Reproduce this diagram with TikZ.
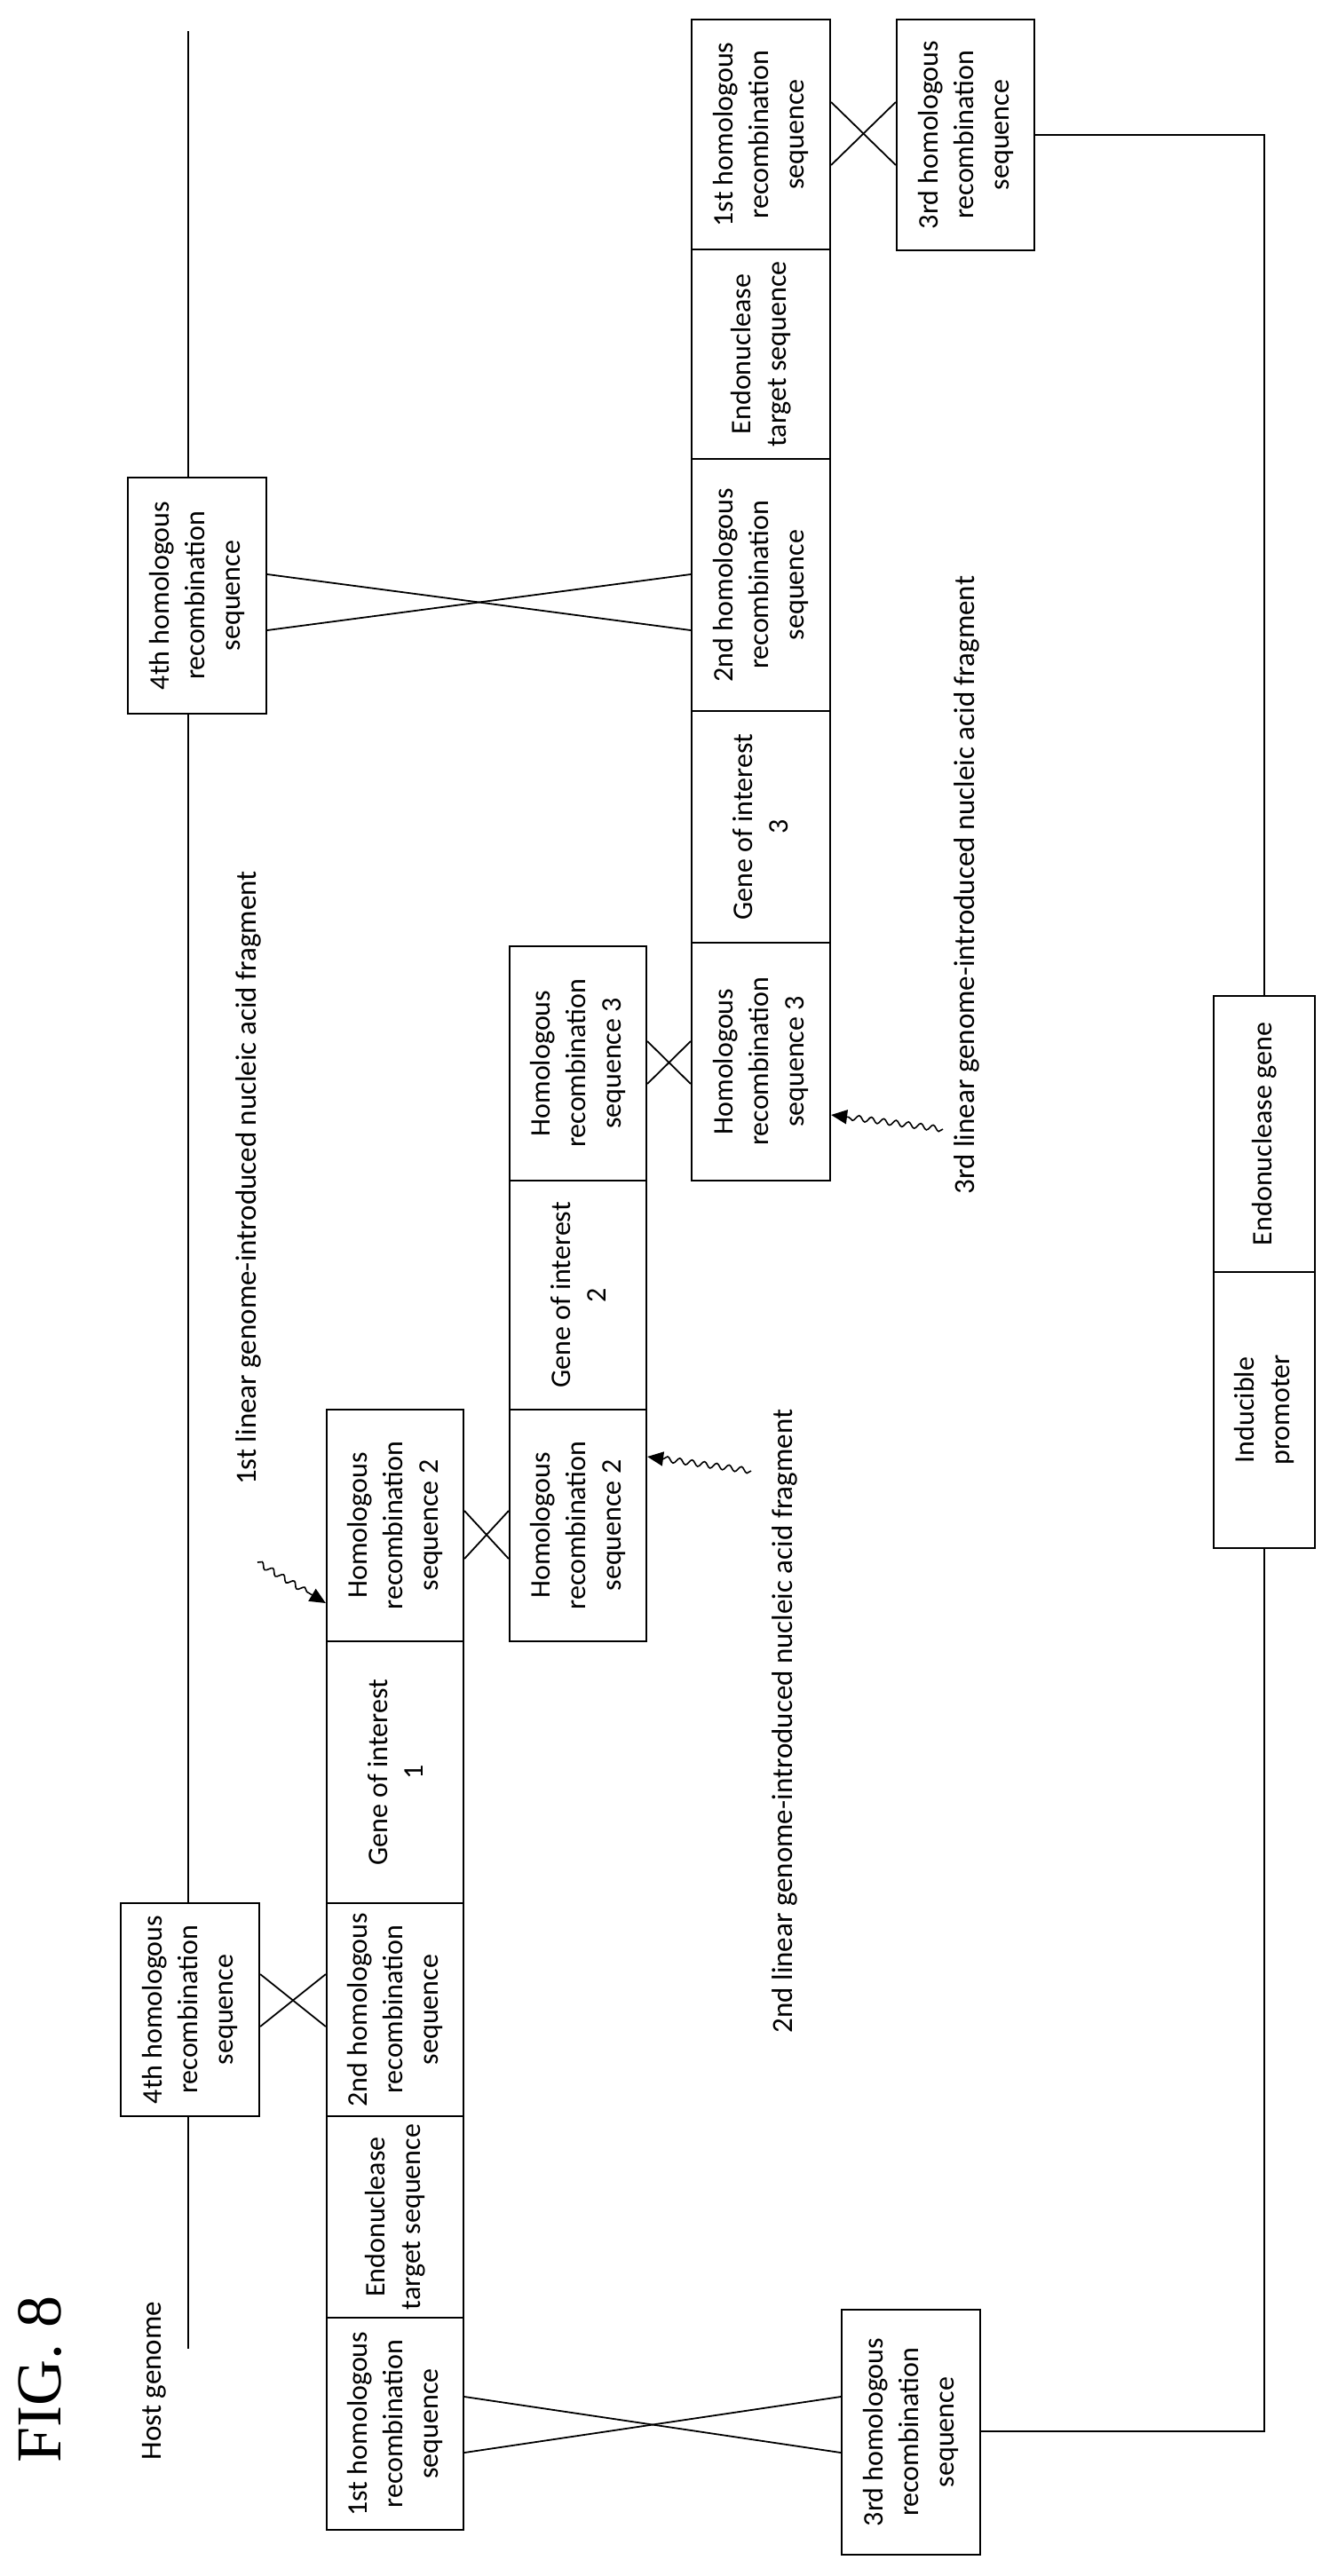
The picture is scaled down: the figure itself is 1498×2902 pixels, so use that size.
\documentclass[tikz,border=0pt]{standalone}
\usepackage{fontspec}
\setmainfont{Carlito}
\newfontfamily\figfont{Liberation Serif}
\usetikzlibrary{calc,decorations.pathmorphing,arrows.meta}
\begin{document}
\begin{tikzpicture}[x=0.5pt,y=-0.5pt,
  bx/.style={draw,line width=1.1pt,rotate=90,align=center,inner sep=0pt,
    font=\fontsize{16}{20}\selectfont},
  ln/.style={line width=0.9pt},
  lab/.style={rotate=90,font=\fontsize{16.5}{19}\selectfont},
  sq/.style={line width=0.8pt,decorate,decoration={snake,amplitude=1.6pt,segment length=7pt,post length=9pt},-{Triangle[length=9pt,width=8pt]}}]
\useasboundingbox (0,0) rectangle (1498,2902);
\newcommand{\bxat}[6]{% name, x1,x2,y1,y2,text
  \node[bx,minimum width={(#5-#4)*0.5pt},minimum height={(#3-#2)*0.5pt}] (#1) at ({(#2+#3)/2},{(#4+#5)/2}) {#6};}
% right column
\bxat{r1}{779}{935}{22}{281}{1st homologous\\recombination\\sequence}
\bxat{r2}{779}{935}{281}{517}{Endonuclease\\target sequence}
\bxat{r3}{779}{935}{517}{801}{2nd homologous\\recombination\\sequence}
\bxat{r4}{779}{935}{801}{1062}{Gene of interest\\3}
\bxat{r5}{779}{935}{1062}{1330}{Homologous\\recombination\\sequence 3}
\bxat{tr}{1010}{1165}{22}{282}{3rd homologous\\recombination\\sequence}
\bxat{ft}{144}{300}{538}{804}{4th homologous\\recombination\\sequence}
% middle
\bxat{m1}{574}{728}{1066}{1330}{Homologous\\recombination\\sequence 3}
\bxat{m2}{574}{728}{1330}{1588}{Gene of interest\\2}
\bxat{m3}{574}{728}{1588}{1849}{Homologous\\recombination\\sequence 2}
% left
\bxat{l1}{368}{522}{1588}{1849}{Homologous\\recombination\\sequence 2}
\bxat{l2}{368}{522}{1849}{2144}{Gene of interest\\1}
\bxat{l3}{368}{522}{2144}{2384}{2nd homologous\\recombination\\sequence}
\bxat{l4}{368}{522}{2384}{2611}{Endonuclease\\target sequence}
\bxat{l5}{368}{522}{2611}{2850}{1st homologous\\recombination\\sequence}
\bxat{fb}{136}{292}{2144}{2384}{4th homologous\\recombination\\sequence}
\bxat{tb}{948}{1104}{2602}{2878}{3rd homologous\\recombination\\sequence}
% endonuclease cassette
\bxat{eg}{1367}{1481}{1122}{1433}{Endonuclease gene}
\bxat{ip}{1367}{1481}{1433}{1744}{Inducible\\promoter}
% host genome line
\coordinate (h0) at (212,35);
\coordinate (h1) at (212,2646);
\draw[ln] (h0) -- (ft.east -| h0);
\draw[ln] (ft.west -| h0) -- (fb.east -| h0);
\draw[ln] (fb.west -| h0) -- (h1);
% wire
\coordinate (w1) at (1424,152);
\coordinate (w2) at (1424,2739);
\draw[ln] (tr.south |- w1) -- (w1) -- (eg.east);
\draw[ln] (ip.west) -- (w2) -- (tb.south |- w2);
% crossings
\newcommand{\xx}[4]{\draw[ln] (#1.south |- 0,#3) -- (#2.north |- 0,#4); \draw[ln] (#1.south |- 0,#4) -- (#2.north |- 0,#3);}
\xx{r1}{tr}{115}{186}
\xx{ft}{r3}{647}{710}
\xx{m1}{r5}{1173}{1221}
\xx{l1}{m3}{1702}{1756}
\xx{fb}{l3}{2224}{2283}
\xx{l5}{tb}{2700}{2763}
% labels
\node[rotate=90,font=\figfont\fontsize{36}{40}\selectfont] (fig) at (45,2680) {FIG. 8};
\node[lab] (hg) at (174,2682) {Host genome};
\node[lab] (t1) at (280,1327) {1st linear genome-introduced nucleic acid fragment};
\node[lab] (t2) at (884,1939) {2nd linear genome-introduced nucleic acid fragment};
\node[lab] (t3) at (1089,997) {3rd linear genome-introduced nucleic acid fragment};
\coordinate (a1) at (290,1760);
\coordinate (a2) at (846,1657);
\coordinate (a3) at (1062,1272);
\draw[sq] (a1) -- (l1.north |- 0,1806);
\draw[sq] (a2) -- (m3.south |- 0,1641);
\draw[sq] (a3) -- (r5.south |- 0,1256);
\end{tikzpicture}
\end{document}
